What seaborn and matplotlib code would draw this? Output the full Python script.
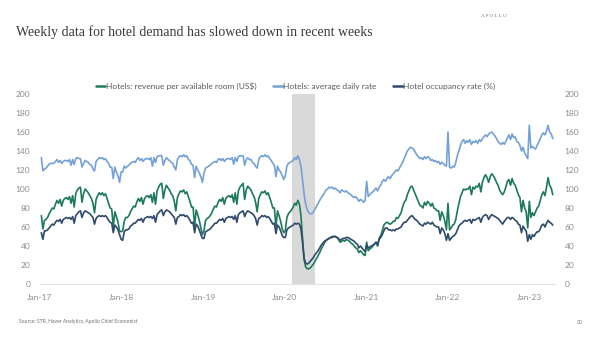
import pandas as pd
import matplotlib
matplotlib.use("Agg")
import matplotlib.pyplot as plt
from matplotlib.lines import Line2D
import seaborn as sns

# Weekly hotel data, weeks ending Saturday, starting 7 Jan 2017
revpar = [
    # 2017
    72, 58, 67, 68, 70, 74, 77, 80, 79, 84, 88, 85, 89, 82, 88, 90, 91, 89, 92, 85, 93,
    81, 95, 99, 101, 102, 86, 95, 100, 98, 96, 93, 90, 85, 75, 89, 93, 96, 94,
    96, 93, 95, 90, 85, 80, 79, 60, 76, 71, 65, 56, 55,
    # 2018
    56, 66, 70, 70, 72, 76, 79, 82, 81, 86, 90, 87, 91, 84, 90, 92, 93, 91, 94, 86, 96,
    84, 98, 102, 105, 106, 90, 99, 104, 101, 99, 95, 93, 87, 77, 91, 95, 98, 97,
    99, 95, 97, 92, 87, 81, 81, 61, 78, 73, 67, 59, 52,
    # 2019
    56, 67, 69, 70, 72, 75, 79, 82, 81, 86, 89, 87, 91, 84, 90, 92, 93, 91, 94, 86, 96,
    84, 98, 102, 104, 106, 89, 99, 103, 101, 99, 95, 92, 86, 76, 90, 94, 97, 96,
    98, 94, 96, 91, 86, 80, 80, 60, 77, 72, 66, 58, 54,
    # 2020
    56, 70, 74, 76, 78, 81, 85, 83, 88, 84, 72, 48, 26, 18, 16, 16, 17,
    19, 21, 24, 27, 30, 33, 37, 40, 43, 46, 47, 48, 49, 50, 50, 50, 49, 47,
    44, 45, 46, 45, 47, 46, 45, 43, 42, 40, 38, 37, 33, 35, 33, 31, 30,
    # 2021
    44, 35, 37, 38, 40, 42, 44, 40, 48, 51, 56, 62, 64, 65, 64, 63, 64,
    66, 66, 70, 69, 72, 75, 81, 86, 88, 94, 98, 102, 103, 99, 95, 91, 87, 83,
    82, 80, 86, 83, 87, 85, 82, 85, 80, 79, 77, 77, 67, 76, 72, 66, 57,
    # 2022
    85, 57, 59, 62, 63, 68, 77, 85, 92, 96, 100, 99, 100, 100, 103, 94, 102, 100,
    103, 102, 106, 97, 107, 112, 115, 112, 107, 113, 116, 114, 111, 107, 104, 99, 96,
    94, 97, 102, 108, 110, 104, 111, 106, 104, 99, 94, 91, 76, 88, 80, 76, 59, 87,
    # 2023
    70, 75, 72, 76, 80, 82, 88, 94, 97, 93, 102, 112, 104, 101, 94,
]

adr = [
    # 2017
    133, 119, 121, 122, 124, 126, 127, 127, 127, 129, 131, 128, 130, 127, 129, 130, 130,
    129, 131, 125, 131, 126, 132, 133, 132, 132, 123, 127, 130, 129, 128, 126, 125, 121,
    119, 129, 131, 133, 132, 133, 131, 132, 129, 127, 123, 123, 111, 123, 118, 114, 107, 118,
    # 2018
    118, 124, 122, 124, 125, 127, 128, 129, 128, 131, 133, 130, 132, 129, 131, 132, 132,
    131, 133, 124, 133, 128, 134, 135, 135, 135, 125, 130, 133, 131, 130, 128, 127, 123,
    120, 131, 134, 135, 134, 136, 134, 135, 131, 130, 126, 125, 112, 124, 120, 117, 113, 107,
    # 2019
    117, 122, 123, 124, 125, 127, 128, 129, 128, 131, 132, 130, 132, 129, 131, 132, 132,
    131, 133, 126, 133, 129, 134, 135, 135, 135, 125, 131, 133, 131, 131, 128, 127, 124,
    122, 131, 134, 135, 134, 136, 134, 135, 132, 130, 127, 125, 113, 124, 120, 118, 114, 110,
    # 2020
    114, 124, 127, 128, 129, 130, 133, 131, 135, 131, 124, 109, 95, 84, 78, 75, 74,
    74, 76, 79, 82, 85, 88, 91, 93, 96, 99, 100, 102, 101, 102, 100, 101, 99, 98,
    96, 99, 98, 97, 98, 96, 95, 94, 92, 91, 92, 90, 87, 89, 88, 86, 88,
    # 2021
    108, 92, 94, 96, 97, 99, 101, 98, 102, 104, 108, 110, 108, 111, 113, 111, 114,
    116, 118, 120, 119, 122, 125, 128, 132, 136, 140, 142, 144, 143, 142, 139, 136, 134, 132,
    133, 131, 134, 132, 134, 133, 130, 131, 129, 130, 128, 129, 126, 128, 127, 125, 124,
    # 2022
    160, 123, 122, 124, 123, 128, 135, 140, 146, 150, 152, 148, 151, 149, 152, 147, 150, 149,
    151, 148, 152, 150, 153, 155, 157, 155, 158, 159, 160, 158, 156, 153, 150, 148, 147,
    149, 147, 150, 154, 157, 152, 158, 154, 155, 150, 149, 146, 140, 144, 138, 135, 132, 167,
    # 2023
    143, 145, 143, 142, 146, 149, 153, 157, 159, 157, 161, 167, 160, 158, 153,
]

occupancy = [
    # 2017
    54, 47, 56, 56, 57, 59, 61, 63, 62, 65, 67, 66, 68, 64, 68, 69, 70, 69, 70, 68, 71,
    64, 72, 74, 76, 77, 70, 75, 77, 76, 75, 74, 72, 70, 63, 69, 71, 72, 71,
    72, 71, 72, 70, 67, 65, 64, 54, 62, 60, 57, 52, 47,
    # 2018
    46, 55, 57, 57, 58, 61, 62, 64, 64, 66, 68, 67, 69, 65, 69, 70, 71, 70, 71, 69, 72,
    65, 73, 75, 77, 78, 72, 76, 78, 77, 76, 74, 72, 70, 63, 70, 71, 73, 72,
    73, 71, 72, 70, 67, 64, 65, 54, 63, 61, 57, 52, 48,
    # 2019
    48, 55, 56, 57, 58, 60, 62, 64, 64, 66, 68, 67, 69, 65, 69, 70, 71, 70, 71, 68, 72,
    65, 73, 75, 76, 77, 71, 75, 77, 76, 75, 74, 72, 69, 62, 69, 70, 72, 71,
    72, 70, 71, 69, 66, 63, 64, 53, 62, 60, 56, 51, 49,
    # 2020
    49, 57, 59, 60, 61, 62, 64, 63, 64, 63, 58, 44, 27, 22, 21, 22, 24,
    26, 28, 31, 33, 35, 38, 41, 43, 45, 46, 47, 48, 49, 49, 50, 50, 49, 48,
    46, 47, 48, 48, 49, 49, 48, 47, 46, 45, 43, 42, 38, 40, 38, 36, 34,
    # 2021
    41, 38, 39, 40, 41, 42, 44, 41, 47, 49, 52, 56, 59, 59, 57, 57, 56,
    57, 56, 58, 58, 59, 60, 63, 65, 65, 67, 69, 71, 72, 70, 68, 67, 65, 63,
    62, 61, 64, 63, 65, 64, 63, 65, 62, 61, 60, 60, 53, 59, 57, 53, 46,
    # 2022
    53, 46, 48, 50, 51, 53, 57, 61, 63, 64, 66, 67, 66, 67, 68, 64, 68, 67,
    68, 69, 70, 65, 70, 72, 73, 72, 68, 71, 73, 72, 71, 70, 69, 67, 65,
    63, 66, 68, 70, 70, 68, 70, 69, 67, 66, 63, 62, 54, 61, 58, 56, 45, 52,
    # 2023
    47, 52, 50, 53, 55, 55, 58, 62, 63, 60, 64, 67, 65, 64, 62,
]

series_labels = [
    "Hotels: revenue per available room (US$)",
    "Hotels: average daily rate",
    "Hotel occupancy rate (%)",
]
series_colors = ["#1c7a5b", "#74a1d6", "#2f4a6b"]
year_labels = ["Jan-17", "Jan-18", "Jan-19", "Jan-20", "Jan-21", "Jan-22", "Jan-23"]
year_starts = ["2017-01-01", "2018-01-01", "2019-01-01", "2020-01-01",
               "2021-01-01", "2022-01-01", "2023-01-01"]
y_ticks = list(range(0, 201, 20))
recession = ("2020-02-01", "2020-05-15")

weeks = pd.date_range("2017-01-07", periods=len(adr), freq="W-SAT")
wide = pd.DataFrame({
    "week": weeks,
    series_labels[0]: revpar,
    series_labels[1]: adr,
    series_labels[2]: occupancy,
})
df = wide.melt(id_vars="week", var_name="series", value_name="value")

sns.set_theme(style="white")
plt.rcParams["font.family"] = ["Lato", "DejaVu Sans"]

fig = plt.figure(figsize=(6, 3.37), dpi=100)
ax = fig.add_axes([40 / 600, 1 - 284 / 337, 515 / 600, 190 / 337])

ax.axvspan(pd.Timestamp(recession[0]), pd.Timestamp(recession[1]),
           color="#d9d9d9", lw=0, zorder=0)

sns.lineplot(data=df, x="week", y="value", hue="series",
             hue_order=series_labels,
             palette=dict(zip(series_labels, series_colors)),
             linewidth=1.2, ax=ax, legend=False)

ax.set_xlim(pd.Timestamp("2017-01-01"), pd.Timestamp("2023-04-25"))
ax.set_ylim(0, 200)
ax.set_yticks(y_ticks)
ax.set_xticks([pd.Timestamp(d) for d in year_starts])
ax.set_xticklabels(year_labels)
ax.set_xlabel("")
ax.set_ylabel("")
tick_grey = "#8c8c8c"
ax.tick_params(axis="y", length=0, pad=7, labelsize=6, labelcolor=tick_grey,
               labelleft=True, labelright=True)
ax.tick_params(axis="x", length=0, pad=7, labelsize=6, labelcolor=tick_grey)
for side in ["top", "left", "right"]:
    ax.spines[side].set_visible(False)
ax.spines["bottom"].set_color("#e4e4e4")
ax.spines["bottom"].set_linewidth(0.8)
ax.grid(False)

handles = [Line2D([0], [0], color=c, lw=1.8) for c in series_colors]
fig.legend(handles, series_labels, loc="center", bbox_to_anchor=(0.493, 1 - 86 / 337),
           ncol=3, frameon=False, fontsize=6, handlelength=1.1, handletextpad=0.1,
           columnspacing=2.0, labelcolor="#595959")

fig.text(16 / 600, 1 - 32 / 337,
         "Weekly data for hotel demand has slowed down in recent weeks",
         family=["Liberation Serif", "DejaVu Serif"], fontsize=10, color="#3a3a3a",
         ha="left", va="center")
fig.text(507 / 600, 1 - 16 / 337, "A P O L L O",
         family=["Liberation Serif", "DejaVu Serif"], fontsize=3.6, color="#6e6e6e",
         ha="right", va="center")
fig.text(19 / 600, 1 - 321 / 337, "Source: STR, Haver Analytics, Apollo Chief Economist",
         fontsize=3.6, color="#6e6e6e", ha="left", va="center")
fig.text(580 / 600, 1 - 322 / 337, "30", fontsize=3.6, color="#6e6e6e",
         ha="center", va="center")

fig.savefig("out.png", dpi=100)
